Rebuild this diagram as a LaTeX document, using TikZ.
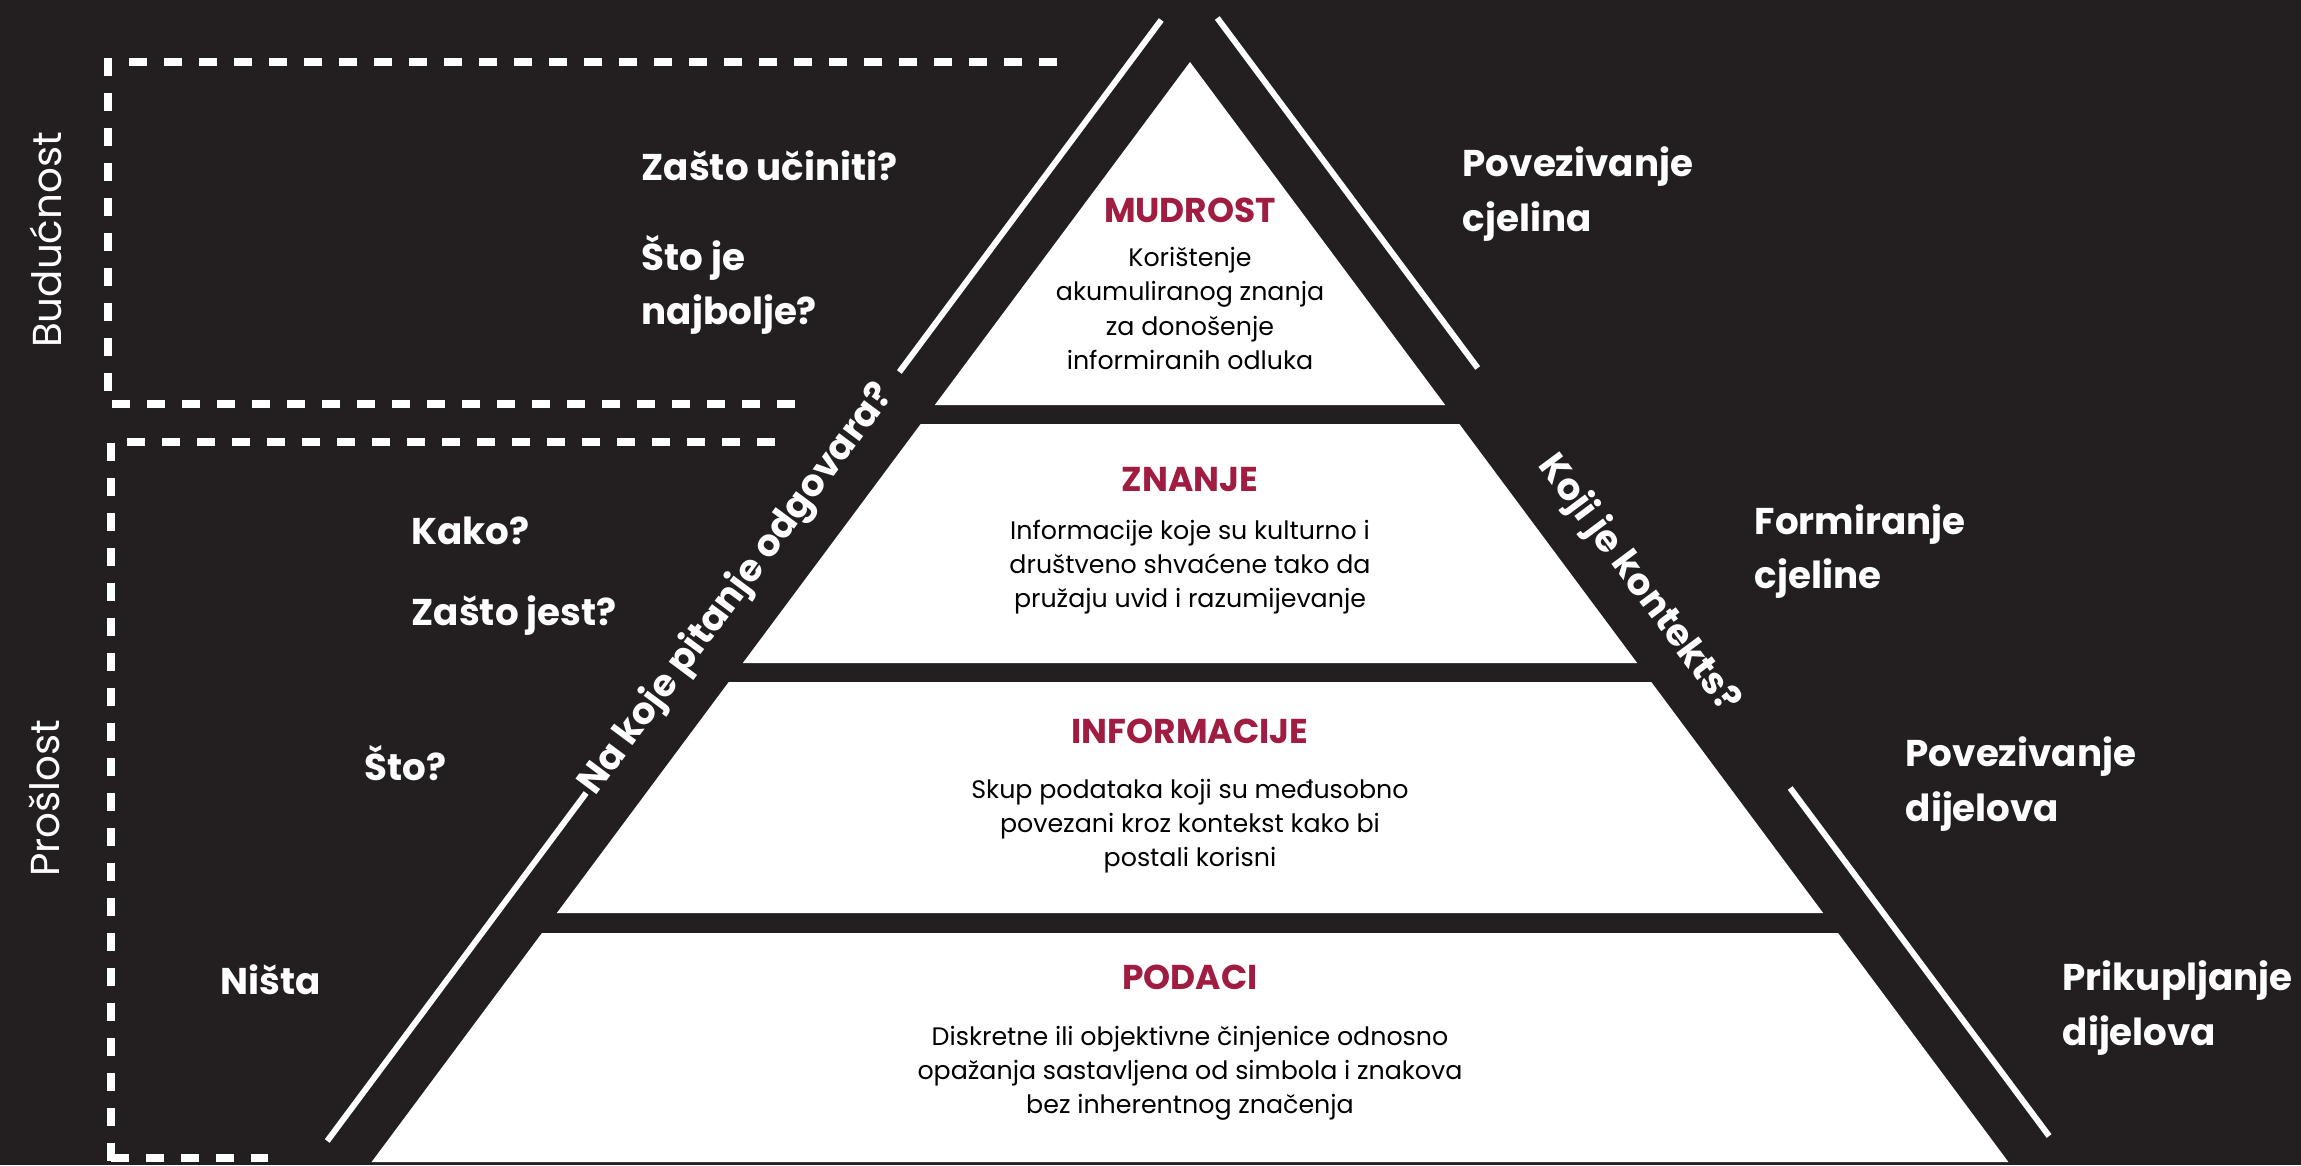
\documentclass[tikz,border=0pt]{standalone}
\usepackage{fontspec}
\setmainfont{Poppins}
\definecolor{board}{HTML}{231F20}
\definecolor{wine}{HTML}{A01C40}
\tikzset{
	edge/.style={white, line width=1.7pt},
	fence/.style={white, line width=2.3pt, dash pattern=on 0.18cm off 0.17cm},
	ask/.style={text=white, anchor=west, align=left, inner sep=0pt, font=\fontsize{10.6}{15.4}\selectfont\bfseries},
	side/.style={text=white, inner sep=0pt, font=\fontsize{10.6}{13}\selectfont\bfseries},
	era/.style={text=white, inner sep=0pt, rotate=90, font=\fontsize{11.5}{13}\selectfont},
	layer/.style={text=wine, inner sep=0pt, font=\fontsize{9.8}{11}\selectfont\bfseries},
	body/.style={text=black, align=center, inner sep=0pt, font=\fontsize{7.2}{9.7}\selectfont}
}
\begin{document}
\begin{tikzpicture}
	\pgfmathsetmacro\AX{11.90}
	\pgfmathsetmacro\AY{11.03}
	\pgfmathsetmacro\S{0.744}
	\pgfmathsetmacro\OFF{0.60}
	\pgfmathsetmacro\ANG{atan(1/\S)}
	\fill[board] (0,0) rectangle (23.01,11.65);
	\useasboundingbox (0,0) rectangle (23.01,11.65);
	
	% pyramid layers
	\foreach \ya/\yb in {11.03/7.60, 7.41/5.02, 4.83/2.52, 2.32/0.03} {
		\pgfmathsetmacro\wa{\S*(\AY-\ya)}
		\pgfmathsetmacro\wb{\S*(\AY-\yb)}
		\fill[white] (\AX-\wa,\ya) -- (\AX+\wa,\ya) -- (\AX+\wb,\yb) -- (\AX-\wb,\yb) -- cycle;
	}
	
	% outer lines
	\coordinate (lu1) at ({\AX-\S*(\AY-11.45)-\OFF},11.45);
	\coordinate (lu2) at ({\AX-\S*(\AY-7.93)-\OFF},7.93);
	\coordinate (ll1) at ({\AX-\S*(\AY-3.72)-\OFF},3.72);
	\coordinate (ll2) at ({\AX-\S*(\AY-0.24)-\OFF},0.24);
	\coordinate (ru1) at ({\AX+\S*(\AY-11.47)+\OFF},11.47);
	\coordinate (ru2) at ({\AX+\S*(\AY-7.97)+\OFF},7.97);
	\coordinate (rl1) at ({\AX+\S*(\AY-3.77)+\OFF},3.77);
	\coordinate (rl2) at ({\AX+\S*(\AY-0.29)+\OFF},0.29);
	\draw[edge] (lu1) -- (lu2);
	\draw[edge] (ll1) -- (ll2);
	\draw[edge] (ru1) -- (ru2);
	\draw[edge] (rl1) -- (rl2);
	\node[side, rotate=\ANG] (askL) at ({\AX-\S*(\AY-5.75)-\OFF},5.75) {Na koje pitanje odgovara?};
	\node[side, rotate=-\ANG] (askR) at ({\AX+\S*(\AY-5.81)+\OFF},5.81) {Koji je kontekts?};
	
	% time boxes
	\draw[fence] (10.57,11.03) -- (1.08,11.03) -- (1.08,7.61) -- (8.00,7.61);
	\draw[fence] (7.75,7.23) -- (1.11,7.23) -- (1.11,0);
	\draw[fence] (1.11,0.07) -- (2.68,0.07);
	\node[era] (future) at (0.46,9.25) {Budućnost};
	\node[era] (past) at (0.44,3.67) {Prošlost};
	
	% questions
	\node[ask] (q1) at (6.41,9.99) {Zašto učiniti?};
	\node[ask] (q2) at (6.41,8.80) {Što je\\najbolje?};
	\node[ask] (q3) at (4.11,6.34) {Kako?};
	\node[ask] (q4) at (4.11,5.49) {Zašto jest?};
	\node[ask] (q5) at (3.64,4.02) {Što?};
	\node[ask] (q6) at (2.20,1.85) {Ništa};
	
	% actions
	\node[ask] (a1) at (14.62,9.71) {Povezivanje\\cjelina};
	\node[ask] (a2) at (17.54,6.135) {Formiranje\\cjeline};
	\node[ask] (a3) at (19.05,3.81) {Povezivanje\\dijelova};
	\node[ask] (a4) at (20.62,1.57) {Prikupljanje\\dijelova};
	
	% layer texts
	\node[layer] (mudT) at (\AX,9.55) {MUDROST};
	\node[body] (mudB) at (\AX,8.565) {Korištenje\\akumuliranog znanja\\za donošenje\\informiranih odluka};
	\node[layer] (znaT) at (\AX,6.85) {ZNANJE};
	\node[body] (znaB) at (\AX,5.975) {Informacije koje su kulturno i\\društveno shvaćene tako da\\pružaju uvid i razumijevanje};
	\node[layer] (infT) at (\AX,4.34) {INFORMACIJE};
	\node[body] (infB) at (\AX,3.39) {Skup podataka koji su međusobno\\povezani kroz kontekst kako bi\\postali korisni};
	\node[layer] (podT) at (\AX,1.88) {PODACI};
	\node[body] (podB) at (\AX,0.915) {Diskretne ili objektivne činjenice odnosno\\opažanja sastavljena od simbola i znakova\\bez inherentnog značenja};
\end{tikzpicture}
\end{document}
